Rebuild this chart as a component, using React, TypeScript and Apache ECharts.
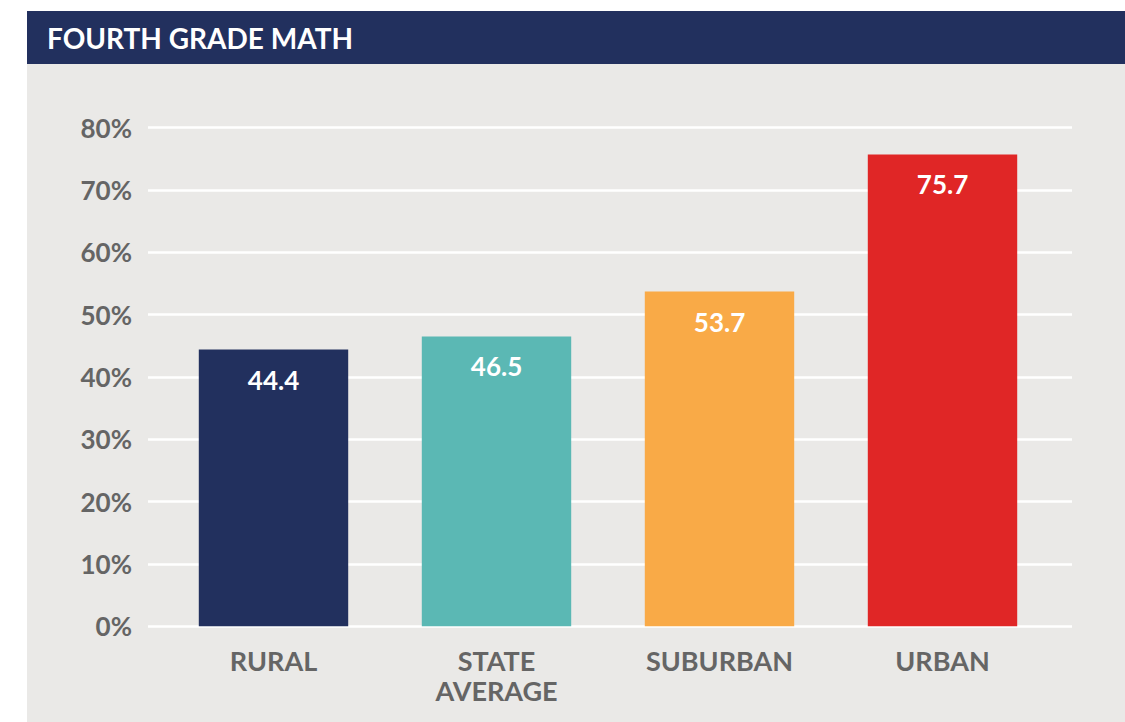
import React, { useEffect, useRef } from "react";
import * as echarts from "echarts";

const categories = ["RURAL", "STATE\nAVERAGE", "SUBURBAN", "URBAN"];
const values = [44.4, 46.5, 53.7, 75.7];
const barColors = ["#22305E", "#5BB8B4", "#F9AA47", "#E02626"];
const yTicks = [0, 10, 20, 30, 40, 50, 60, 70, 80];
const title = "FOURTH GRADE MATH";

export default function App() {
  const ref = useRef<HTMLDivElement>(null);
  useEffect(() => {
    if (!ref.current) return;
    const chart = echarts.init(ref.current, undefined, { renderer: "svg" });
    const font = "Lato, 'Open Sans', sans-serif";
    const yMax = yTicks[yTicks.length - 1];
    const yStep = yTicks[1] - yTicks[0];
    chart.setOption({
      animation: false,
      backgroundColor: "#FFFFFF",
      graphic: [
        { type: "rect", z: -10, shape: { x: 27, y: 64, width: 1098, height: 658 }, style: { fill: "#EAE9E7" } },
        { type: "rect", z: -10, shape: { x: 27, y: 11, width: 1098, height: 53 }, style: { fill: "#22305E" } },
        {
          type: "text",
          x: 47,
          y: 38,
          style: {
            text: title,
            fill: "#FFFFFF",
            font: `bold 28px ${font}`,
            verticalAlign: "middle",
            align: "left",
          },
        },
      ],
      grid: [
        { left: 148, right: 53, top: 127.6, bottom: 95.7 },
        { left: 162, right: 71, top: 127.6, bottom: 95.7 },
      ],
      xAxis: [
        { gridIndex: 0, type: "category", data: [], show: false },
        {
          gridIndex: 1,
          type: "category",
          data: categories,
          axisLine: { show: false },
          axisTick: { show: false },
          axisLabel: {
            color: "#656565",
            fontFamily: font,
            fontWeight: "bold",
            fontSize: 27,
            lineHeight: 30,
            margin: 19,
            interval: 0,
          },
        },
      ],
      yAxis: [
        {
          gridIndex: 0,
          type: "value",
          min: 0,
          max: yMax,
          interval: yStep,
          axisLine: { show: false },
          axisTick: { show: false },
          axisLabel: {
            formatter: "{value}%",
            color: "#656565",
            fontFamily: font,
            fontWeight: "bold",
            fontSize: 26,
            margin: 16,
          },
          splitLine: { show: true, lineStyle: { color: "#FFFFFF", width: 2.5 } },
        },
        { gridIndex: 1, type: "value", min: 0, max: yMax, interval: yStep, show: false, splitLine: { show: false } },
      ],
      series: [
        {
          type: "bar",
          xAxisIndex: 1,
          yAxisIndex: 1,
          barCategoryGap: "33%",
          data: values.map((v, i) => ({ value: v, itemStyle: { color: barColors[i] } })),
          label: {
            show: true,
            position: "insideTop",
            distance: 17,
            color: "#FFFFFF",
            fontFamily: font,
            fontWeight: "bold",
            fontSize: 26,
            lineHeight: 26,
            formatter: (p: any) => p.value.toFixed(1),
          },
        },
      ],
    });
    return () => chart.dispose();
  }, []);
  return (
    <div
      ref={ref}
      style={{ position: "fixed", left: 0, top: 0, width: 1125, height: 722 }}
    />
  );
}
